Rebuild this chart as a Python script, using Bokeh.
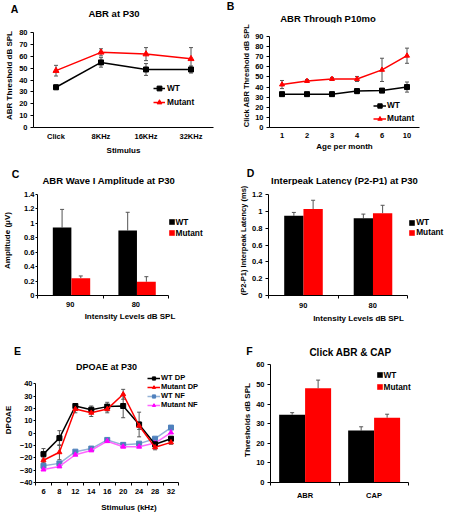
from bokeh.plotting import figure
from bokeh.models import (FactorRange, Range1d, FixedTicker, Label, Legend, LegendItem,
                          Whisker, TeeHead, ColumnDataSource)
from bokeh.transform import dodge
from bokeh.layouts import column, row
from bokeh.embed import file_html
from bokeh.resources import INLINE

FONT = "Liberation Sans"
RED = "#ff0000"
ERR = "#555555"

# ---------------- data ----------------
# A: ABR at P30
a_stimulus = ["Click", "8KHz", "16KHz", "32KHz"]
a_wt = [34, 55, 49, 49]
a_wt_err = [2, 4, 5, 3]
a_mut = [48, 63.5, 62, 58]
a_mut_err = [4.5, 3, 5.5, 9.5]
a_yticks = [0, 10, 20, 30, 40, 50, 60, 70, 80]

# B: ABR through P10mo
b_age = ["1", "2", "3", "4", "6", "10"]
b_wt = [33, 33, 33, 36, 36.5, 40]
b_wt_err = [1.5, 1.5, 2, 2.5, 2, 5]
b_mut = [42.5, 46, 48, 48, 57, 71]
b_mut_err = [4, 1.5, 1.5, 2.5, 11.5, 7.5]
b_yticks = [0, 10, 20, 30, 40, 50, 60, 70, 80, 90]

# C: ABR wave I amplitude
c_levels = ["90", "80"]
c_wt = [0.94, 0.90]
c_wt_err = [0.25, 0.25]
c_mut = [0.24, 0.19]
c_mut_err = [0.03, 0.07]
c_yticks = [0, 0.2, 0.4, 0.6, 0.8, 1, 1.2, 1.4]
c_ylabels = ["0", "0.2", "0.4", "0.6", "0.8", "1", "1.2", "1.4"]

# D: interpeak latency
d_levels = ["90", "80"]
d_wt = [0.95, 0.92]
d_wt_err = [0.04, 0.05]
d_mut = [1.03, 0.98]
d_mut_err = [0.105, 0.095]
d_yticks = [0, 0.2, 0.4, 0.6, 0.8, 1, 1.2]
d_ylabels = ["0", "0.2", "0.4", "0.6", "0.8", "1", "1.2"]

# E: DPOAE
e_freq = ["6", "8", "12", "14", "16", "20", "24", "28", "32"]
e_wt_dp = [-17, -4, 22, 19, 21.5, 22, 7, -9, -4.5]
e_wt_dp_err = [4.5, 6, 1.5, 3, 3.5, 9.5, 10, 3, 1.5]
e_mut_dp = [-22, -15.5, 19.5, 16.5, 19.5, 31.5, 6, -11.5, -7.5]
e_mut_dp_err = [2, 6, 3, 3, 3, 4, 3, 2, 1.5]
e_wt_nf = [-26.5, -24.5, -15, -12.5, -5.5, -9.5, -8.5, -4.5, 4.5]
e_mut_nf = [-29.5, -27, -17.5, -14, -6.5, -11, -11, -8, 0.5]
e_yticks = [-40, -30, -20, -10, 0, 10, 20, 30, 40]

# F: click ABR & CAP
f_measure = ["ABR", "CAP"]
f_wt = [34.6, 26.5]
f_wt_err = [1.0, 1.9]
f_mut = [48, 33]
f_mut_err = [4.2, 1.8]
f_yticks = [0, 10, 20, 30, 40, 50, 60]


# ---------------- helpers ----------------
def y_range_for(y0, ytop, plot_top, frame_bottom, data_top):
    scale = (frame_bottom - data_top) / (ytop - y0)
    return Range1d(y0, ytop + (data_top - plot_top) / scale)


def make_plot(w, h, x_range, y_range, ml, mr, bb, yticks, ybounds):
    p = figure(width=w, height=h, x_range=x_range, y_range=y_range, title=None,
               output_backend="svg", toolbar_location=None,
               min_border_left=ml, min_border_right=mr, min_border_top=0, min_border_bottom=bb)
    p.outline_line_color = None
    p.background_fill_color = "white"
    p.border_fill_color = "white"
    p.xgrid.visible = False
    p.ygrid.visible = False
    p.yaxis.ticker = FixedTicker(ticks=yticks)
    p.yaxis.bounds = ybounds
    for ax in list(p.xaxis) + list(p.yaxis):
        ax.axis_line_color = "black"
        ax.axis_line_width = 1
        ax.major_tick_line_color = "black"
        ax.minor_tick_line_color = None
        ax.major_tick_in = 0
        ax.major_tick_out = 3
        ax.major_label_text_font = FONT
        ax.major_label_text_font_style = "bold"
        ax.major_label_text_font_size = "7.5px"
        ax.major_label_text_color = "black"
        ax.axis_label_text_font = FONT
        ax.axis_label_text_font_style = "bold"
        ax.axis_label_text_font_size = "8px"
        ax.axis_label_text_color = "black"
    p.xaxis.major_tick_out = 0
    p.xaxis.major_tick_line_color = None
    return p


def numeric_x(p, labels, bounds_end):
    xs = [i + 0.5 for i in range(len(labels))]
    p.xaxis.ticker = FixedTicker(ticks=xs, minor_ticks=list(range(len(labels) + 1)))
    p.xaxis.major_label_overrides = {x: lab for x, lab in zip(xs, labels)}
    p.xaxis.bounds = (0, bounds_end)
    p.xaxis.minor_tick_line_color = "black"
    p.xaxis.minor_tick_in = 0
    p.xaxis.minor_tick_out = 3
    return xs


def header(w, h):
    p = figure(width=w, height=h, x_range=Range1d(0, w), y_range=Range1d(h, 0),
               x_axis_type=None, y_axis_type=None, title=None,
               output_backend="svg", toolbar_location=None, min_border=0)
    p.outline_line_color = None
    p.background_fill_color = "white"
    p.border_fill_color = "white"
    return p


def htext(p, text, x, y, size):
    p.add_layout(Label(x=x, y=y, text=text, text_font=FONT, text_font_style="bold",
                       text_font_size=size, text_align="center", text_baseline="middle",
                       text_color="black"))


def add_whisker(p, src, base, lo, hi, both=True, color=ERR):
    w = Whisker(source=src, base=base, lower=lo, upper=hi, line_color=color, line_width=1,
                upper_head=TeeHead(size=4, line_color=color, line_width=1),
                lower_head=TeeHead(size=4, line_color=color, line_width=1) if both else None)
    p.add_layout(w)
    return w


def style_legend(lg, loc, gw, gh, spacing, standoff, size):
    lg.location = loc
    lg.border_line_color = None
    lg.background_fill_alpha = 0
    lg.padding = 0
    lg.margin = 0
    lg.glyph_width = gw
    lg.glyph_height = gh
    lg.label_height = gh
    lg.spacing = spacing
    lg.label_standoff = standoff
    lg.label_text_font = FONT
    lg.label_text_font_style = "bold"
    lg.label_text_font_size = size
    lg.label_text_color = "black"


def lo_hi(vals, errs):
    return [v - e for v, e in zip(vals, errs)], [v + e for v, e in zip(vals, errs)]


# ---------------- page geometry ----------------
COL_W = 226
H1, P1, BB1 = 23, 144, 40      # row 1: header, plots, bottom border
H2, P2, BB2 = 18, 150, 40      # row 2
H3, P3, BB3 = 22, 163, 38      # row 3
R1_TOP = H1
R1_FB = R1_TOP + P1 - BB1
R2_TOP = H1 + P1 + H2
R2_FB = R2_TOP + P2 - BB2
R3_TOP = H1 + P1 + H2 + P2 + H3
R3_FB = R3_TOP + P3 - BB3

# ---------------- headers ----------------
h1 = header(2 * COL_W, H1)
htext(h1, "A", 14, 8, "10.5px")
htext(h1, "ABR at P30", 113.5, 12.5, "9.5px")
htext(h1, "B", 230, 5.5, "10.5px")
htext(h1, "ABR Through P10mo", 327.5, 17.5, "9.5px")

h2 = header(2 * COL_W, H2)
htext(h2, "C", 15, 6.3, "10.5px")
htext(h2, "ABR Wave I Amplitude at P30", 108.3, 12.5, "9.5px")
htext(h2, "D", 250, 5, "10.5px")
htext(h2, "Interpeak Latency (P2-P1) at P30", 344, 12.5, "9.5px")

h3 = header(2 * COL_W, H3)
htext(h3, "E", 17, 15, "10.5px")
htext(h3, "F", 249, 15, "10.5px")
htext(h3, "Click ABR & CAP", 350, 16.5, "10px")

# ---------------- Panel A ----------------
pa = make_plot(COL_W, P1, FactorRange(factors=a_stimulus), y_range_for(0, 80, R1_TOP, R1_FB, 32.3),
               33, 13, BB1, a_yticks, (0, 80))
pa.xaxis.axis_label = "Stimulus"
pa.yaxis.axis_label = "ABR Threshold dB SPL"
pa.yaxis.major_label_standoff = 3
pa.yaxis.axis_label_standoff = 2
pa.xaxis.major_label_standoff = 4
pa.xaxis.axis_label_standoff = 2
wl, wh = lo_hi(a_wt, a_wt_err)
ml_, mh_ = lo_hi(a_mut, a_mut_err)
sa = ColumnDataSource(dict(x=a_stimulus, wt=a_wt, mut=a_mut, wl=wl, wh=wh, ml=ml_, mh=mh_))
add_whisker(pa, sa, "x", "wl", "wh")
add_whisker(pa, sa, "x", "ml", "mh")
r1 = pa.line("x", "wt", source=sa, line_color="black", line_width=1.5)
r2 = pa.scatter("x", "wt", source=sa, marker="square", size=5, fill_color="black", line_color="black")
r3 = pa.line("x", "mut", source=sa, line_color=RED, line_width=1.5)
r4 = pa.scatter("x", "mut", source=sa, marker="triangle", size=6, fill_color=RED, line_color=RED)
lga = Legend(items=[LegendItem(label="WT", renderers=[r1, r2]),
                    LegendItem(label="Mutant", renderers=[r3, r4])])
style_legend(lga, (120, 19), 12, 12, 2, 2, "8.3px")
pa.add_layout(lga)

# ---------------- Panel B ----------------
pb = make_plot(COL_W, P1, FactorRange(factors=b_age), y_range_for(0, 90, R1_TOP, R1_FB, 36),
               43, 33, BB1, b_yticks, (0, 90))
pb.xaxis.axis_label = "Age per month"
pb.yaxis.axis_label = "Click ABR Threshold dB SPL"
pb.yaxis.axis_label_text_font_size = "7.5px"
pb.yaxis.major_label_standoff = 3
pb.yaxis.axis_label_standoff = 1
pb.xaxis.major_label_standoff = 5
pb.xaxis.axis_label_standoff = 1
wl, wh = lo_hi(b_wt, b_wt_err)
ml_, mh_ = lo_hi(b_mut, b_mut_err)
sb = ColumnDataSource(dict(x=b_age, wt=b_wt, mut=b_mut, wl=wl, wh=wh, ml=ml_, mh=mh_))
add_whisker(pb, sb, "x", "wl", "wh")
add_whisker(pb, sb, "x", "ml", "mh")
r1 = pb.line("x", "wt", source=sb, line_color="black", line_width=1.5)
r2 = pb.scatter("x", "wt", source=sb, marker="square", size=5, fill_color="black", line_color="black")
r3 = pb.line("x", "mut", source=sb, line_color=RED, line_width=1.5)
r4 = pb.scatter("x", "mut", source=sb, marker="triangle", size=5, fill_color=RED, line_color=RED)
lgb = Legend(items=[LegendItem(label="WT", renderers=[r1, r2]),
                    LegendItem(label="Mutant", renderers=[r3, r4])])
style_legend(lgb, (104, 3.5), 13, 11, 2, 1, "8.3px")
pb.add_layout(lgb)

# ---------------- Panel C ----------------
c_xend = 2 * (COL_W - 4 - 33) / (167 - 33)
pc = make_plot(COL_W, P2, Range1d(0, c_xend), y_range_for(0, 1.4, R2_TOP, R2_FB, 193.7),
               33, 4, BB2, c_yticks, (0, 1.4))
c_x = numeric_x(pc, c_levels, len(c_levels))
pc.yaxis.major_label_overrides = {t: s for t, s in zip(c_yticks, c_ylabels)}
pc.xaxis.axis_label = "Intensity Levels dB SPL"
pc.yaxis.axis_label = "Amplitude (\u03bcV)"
pc.yaxis.major_tick_out = 2
pc.yaxis.major_label_standoff = 1
pc.yaxis.axis_label_standoff = 9
pc.xaxis.major_label_standoff = 3
pc.xaxis.axis_label_standoff = 2
wl, wh = lo_hi(c_wt, c_wt_err)
ml_, mh_ = lo_hi(c_mut, c_mut_err)
sc = ColumnDataSource(dict(x=c_x, wt=c_wt, mut=c_mut, wh=wh, mh=mh_))
rc1 = pc.vbar(x=dodge("x", -0.125), top="wt", width=0.283, source=sc, fill_color="black", line_color=None)
rc2 = pc.vbar(x=dodge("x", 0.16), top="mut", width=0.287, source=sc, fill_color=RED, line_color=None)
add_whisker(pc, sc, dodge("x", -0.125), "wt", "wh", both=False)
add_whisker(pc, sc, dodge("x", 0.16), "mut", "mh", both=False)
lgc = Legend(items=[LegendItem(label="WT", renderers=[rc1]),
                    LegendItem(label="Mutant", renderers=[rc2])])
style_legend(lgc, (130.5, 57.5), 7, 7, 1, 1, "8.3px")
pc.add_layout(lgc)

# ---------------- Panel D ----------------
d_xend = 2 * (COL_W - 4 - 42) / (407 - 268)
pd_ = make_plot(COL_W, P2, Range1d(0, d_xend), y_range_for(0, 1.2, R2_TOP, R2_FB, 194.3),
                42, 4, BB2, d_yticks, (0, 1.2))
d_x = numeric_x(pd_, d_levels, len(d_levels))
pd_.yaxis.major_label_overrides = {t: s for t, s in zip(d_yticks, d_ylabels)}
pd_.xaxis.axis_label = "Intensity Levels dB SPL"
pd_.yaxis.axis_label = "(P2-P1) Interpeak Latency (ms)"
pd_.yaxis.axis_label_text_font_size = "7.5px"
pd_.yaxis.major_label_standoff = 3
pd_.yaxis.axis_label_standoff = 1
pd_.xaxis.major_label_standoff = 4
pd_.xaxis.axis_label_standoff = 3
wl, wh = lo_hi(d_wt, d_wt_err)
ml_, mh_ = lo_hi(d_mut, d_mut_err)
sd = ColumnDataSource(dict(x=d_x, wt=d_wt, mut=d_mut, wh=wh, mh=mh_))
rd1 = pd_.vbar(x=dodge("x", -0.135), top="wt", width=0.278, source=sd, fill_color="black", line_color=None)
rd2 = pd_.vbar(x=dodge("x", 0.142), top="mut", width=0.278, source=sd, fill_color=RED, line_color=None)
add_whisker(pd_, sd, dodge("x", -0.135), "wt", "wh", both=False)
add_whisker(pd_, sd, dodge("x", 0.142), "mut", "mh", both=False)
lgd = Legend(items=[LegendItem(label="WT", renderers=[rd1]),
                    LegendItem(label="Mutant", renderers=[rd2])])
style_legend(lgd, (140.2, 58), 7, 7, 0, 1, "8.3px")
pd_.add_layout(lgd)

# ---------------- Panel E ----------------
e_xend = 9 * (COL_W - 4 - 33) / (178 - 33)
pe = make_plot(COL_W, P3, Range1d(0, e_xend), y_range_for(-40, 40, R3_TOP, R3_FB, 383.3),
               33, 4, BB3, e_yticks, (-40, 40))
e_x = numeric_x(pe, e_freq, len(e_freq))
pe.xaxis.axis_label = "Stimulus (kHz)"
pe.yaxis.axis_label = "DPOAE"
pe.yaxis.major_tick_out = 2
pe.yaxis.major_label_standoff = 1
pe.yaxis.axis_label_standoff = 4
pe.xaxis.major_label_standoff = 3
pe.xaxis.axis_label_standoff = 6
wl, wh = lo_hi(e_wt_dp, e_wt_dp_err)
ml_, mh_ = lo_hi(e_mut_dp, e_mut_dp_err)
se = ColumnDataSource(dict(x=e_x, wdp=e_wt_dp, mdp=e_mut_dp, wnf=e_wt_nf, mnf=e_mut_nf,
                           wl=wl, wh=wh, ml=ml_, mh=mh_))
add_whisker(pe, se, "x", "wl", "wh")
add_whisker(pe, se, "x", "ml", "mh")
re1 = pe.line("x", "wnf", source=se, line_color="#95b3d7", line_width=1.5)
re2 = pe.scatter("x", "wnf", source=se, marker="square", size=5, fill_color="#4f81bd", line_color="#4f81bd")
re3 = pe.line("x", "mnf", source=se, line_color="#ff66ff", line_width=1.5)
re4 = pe.scatter("x", "mnf", source=se, marker="triangle", size=5, fill_color="#ff00ff", line_color="#ff00ff")
re5 = pe.line("x", "wdp", source=se, line_color="black", line_width=1.5)
re6 = pe.scatter("x", "wdp", source=se, marker="square", size=5, fill_color="black", line_color="black")
re7 = pe.line("x", "mdp", source=se, line_color=RED, line_width=1.5)
re8 = pe.scatter("x", "mdp", source=se, marker="triangle", size=5, fill_color=RED, line_color=RED)
lge = Legend(items=[LegendItem(label="WT DP", renderers=[re5, re6]),
                    LegendItem(label="Mutant DP", renderers=[re7, re8]),
                    LegendItem(label="WT NF", renderers=[re1, re2]),
                    LegendItem(label="Mutant NF", renderers=[re3, re4])])
style_legend(lge, (112, 73), 13, 8, 0, 1, "7.5px")
pe.add_layout(lge)
pe.add_layout(Label(x=104 - 33, y=R3_FB - 366.7, x_units="screen", y_units="screen",
                    text="DPOAE at P30", text_font=FONT, text_font_style="bold", text_font_size="9px",
                    text_align="center", text_baseline="middle", text_color="black"))

# ---------------- Panel F ----------------
f_xend = 2 * (COL_W - 4 - 44) / (408.3 - 270.3)
pf = make_plot(COL_W, P3, Range1d(0, f_xend), y_range_for(0, 60, R3_TOP, R3_FB, 364.3),
               44, 4, BB3, f_yticks, (0, 60))
f_x = numeric_x(pf, f_measure, len(f_measure))
pf.yaxis.axis_label = "Thresholds dB SPL"
pf.yaxis.major_label_standoff = 3
pf.yaxis.axis_label_standoff = 1
pf.xaxis.major_label_standoff = 5
wl, wh = lo_hi(f_wt, f_wt_err)
ml_, mh_ = lo_hi(f_mut, f_mut_err)
sf = ColumnDataSource(dict(x=f_x, wt=f_wt, mut=f_mut, wh=wh, mh=mh_))
rf1 = pf.vbar(x=dodge("x", -0.186), top="wt", width=0.377, source=sf, fill_color="black", line_color=None)
rf2 = pf.vbar(x=dodge("x", 0.19), top="mut", width=0.377, source=sf, fill_color=RED, line_color=None)
add_whisker(pf, sf, dodge("x", -0.186), "wt", "wh", both=False)
add_whisker(pf, sf, dodge("x", 0.19), "mut", "mh", both=False)
lgf = Legend(items=[LegendItem(label="WT", renderers=[rf1]),
                    LegendItem(label="Mutant", renderers=[rf2])])
style_legend(lgf, (105.5, 90.5), 7, 7, 2, 1, "8.3px")
pf.add_layout(lgf)

layout = column(h1, row(pa, pb), h2, row(pc, pd_), h3, row(pe, pf))
open("out.html", "w").write(file_html(layout, INLINE))
